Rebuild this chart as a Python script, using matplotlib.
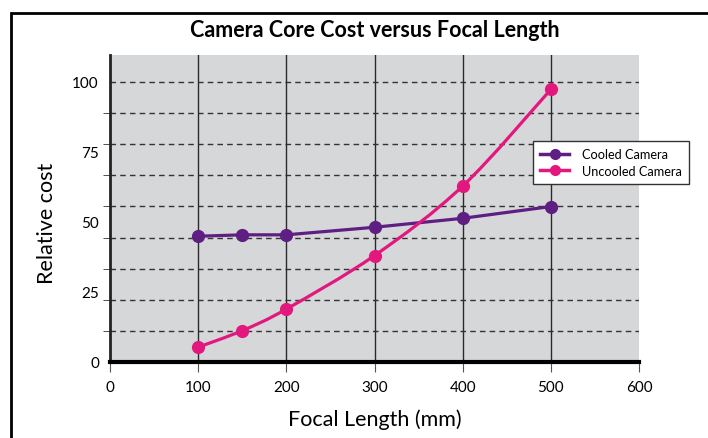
import matplotlib
matplotlib.use("Agg")
import matplotlib.pyplot as plt
import numpy as np
from matplotlib.path import Path
from matplotlib.patches import PathPatch, Rectangle
from matplotlib.lines import Line2D

plt.rcParams['font.family'] = ['Lato', 'DejaVu Sans']

# data
focal_length = [100, 150, 200, 300, 400, 500]
cooled_cost = [44.9, 45.4, 45.4, 48.1, 51.3, 55.5]
uncooled_cost = [5.3, 11.2, 18.9, 38.0, 62.8, 97.3]
x_ticks = [0, 100, 200, 300, 400, 500, 600]
y_ticks = [0, 25, 50, 75, 100]
series_labels = ['Cooled Camera', 'Uncooled Camera']

cooled_color = '#5f1e82'
uncooled_color = '#e2187f'
bg_gray = '#d6d7d9'


def smooth_path(xs, ys):
    # catmull-rom through the points, as cubic bezier segments
    pts = np.column_stack([xs, ys]).astype(float)
    verts = [pts[0]]
    codes = [Path.MOVETO]
    for i in range(len(pts) - 1):
        p0 = pts[i - 1] if i > 0 else pts[i]
        p1, p2 = pts[i], pts[i + 1]
        p3 = pts[i + 2] if i + 2 < len(pts) else pts[i + 1]
        c1 = p1 + (p2 - p0) / 6.0
        c2 = p2 - (p3 - p1) / 6.0
        verts += [c1, c2, p2]
        codes += [Path.CURVE4] * 3
    return Path(verts, codes)


fig = plt.figure(figsize=(7.08, 4.39), dpi=100)
ax = fig.add_axes([110 / 708, 76 / 439, 529 / 708, 307 / 439])
ax.set_facecolor(bg_gray)

ax.set_xlim(0, 600)
ax.set_ylim(0, 109.6)

# grid: dashed horizontals every 100/9, solid verticals at 100..500
for k in range(1, 10):
    ax.axhline(k * 100 / 9, color='#333333', lw=1, ls=(0, (4, 3)), zorder=1)
for xv in x_ticks[1:-1]:
    ax.axvline(xv, color='#2a2a2a', lw=1, zorder=1)

ax.plot(focal_length, cooled_cost, color=cooled_color, lw=2.3, zorder=3)
ax.plot(focal_length, cooled_cost, 'o', color=cooled_color, ms=8.5, zorder=4)

ax.add_patch(PathPatch(smooth_path(focal_length, uncooled_cost), fill=False,
                       edgecolor=uncooled_color, lw=2.3, zorder=3))
ax.plot(focal_length, uncooled_cost, 'o', color=uncooled_color, ms=8.5, zorder=4)

ax.set_xticks(x_ticks)
ax.set_yticks(y_ticks)
ax.set_yticks([k * 100 / 9 for k in range(1, 10)], minor=True)
ax.tick_params(axis='x', length=7, color='#555555', labelsize=11, pad=6)
ax.tick_params(axis='y', which='major', length=0, labelsize=11, pad=8)
ax.tick_params(axis='y', which='minor', length=5, color='#333333', direction='out')

for s in ['top', 'right']:
    ax.spines[s].set_visible(False)
ax.spines['bottom'].set_linewidth(3)
ax.spines['left'].set_linewidth(2)
ax.spines['left'].set_color('#222222')

ax.set_xlabel('Focal Length (mm)', fontsize=15.5, labelpad=10)
ax.set_ylabel('Relative cost', fontsize=15.5)
ax.yaxis.set_label_coords(-0.1, 0.455)
ax.set_title('Camera Core Cost versus Focal Length', fontsize=15.5,
             fontweight='bold', pad=14)

handles = [Line2D([], [], color=cooled_color, lw=2.5, marker='o', ms=7),
           Line2D([], [], color=uncooled_color, lw=2.5, marker='o', ms=7)]
leg = ax.legend(handles, series_labels, loc='upper left',
                bbox_to_anchor=(423 / 529, (363 - 142) / 307),
                fontsize=9.2, frameon=True, fancybox=False, framealpha=1,
                borderpad=0.55, labelspacing=0.35, handlelength=2.3,
                handletextpad=1.0, borderaxespad=0)
leg.get_frame().set_edgecolor('#333333')
leg.get_frame().set_linewidth(1)
leg.set_zorder(6)

# outer frame of the figure
fig.patches.append(Rectangle((11 / 708, -0.05), 1.1, (439 - 14) / 439 + 0.05,
                             transform=fig.transFigure, fill=False,
                             edgecolor='black', lw=2))

fig.savefig('out.png', dpi=100)
